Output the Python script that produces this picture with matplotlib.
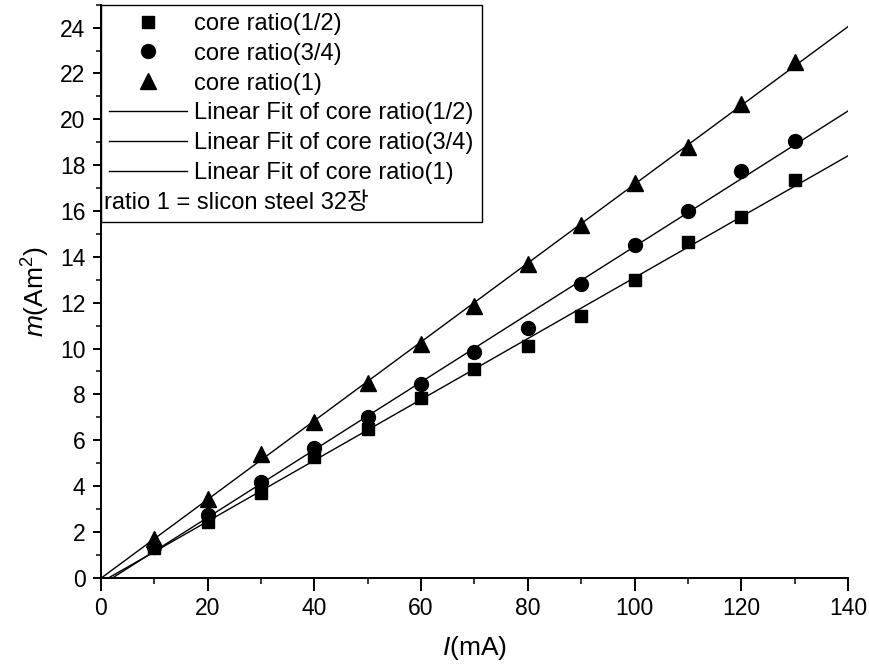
import numpy as np
import matplotlib
matplotlib.use('Agg')
import matplotlib.pyplot as plt
from matplotlib.lines import Line2D
from matplotlib.ticker import MultipleLocator

plt.rcParams['font.family'] = ['Liberation Sans', 'Noto Sans CJK KR', 'DejaVu Sans']
plt.rcParams['mathtext.fontset'] = 'custom'
plt.rcParams['mathtext.rm'] = 'Liberation Sans'
plt.rcParams['mathtext.it'] = 'Liberation Sans:italic'

# current (mA)
current = [10, 20, 30, 40, 50, 60, 70, 80, 90, 100, 110, 120, 130]
# magnetic moment (Am^2) per core ratio
m_half = [1.3, 2.45, 3.7, 5.25, 6.5, 7.85, 9.1, 10.1, 11.4, 13.0, 14.65, 15.75, 17.35]
m_three_quarter = [1.35, 2.75, 4.2, 5.65, 7.0, 8.45, 9.85, 10.9, 12.8, 14.5, 16.0, 17.75, 19.05]
m_full = [1.7, 3.45, 5.4, 6.8, 8.5, 10.2, 11.85, 13.7, 15.4, 17.2, 18.8, 20.65, 22.5]

labels = ['core ratio(1/2)', 'core ratio(3/4)', 'core ratio(1)']
note = 'ratio 1 = slicon steel 32장'
markers = ['s', 'o', '^']
msizes = [8.5, 10, 11]

fig = plt.figure(figsize=(8.69, 6.68), dpi=100)
ax = fig.add_axes([0.116, 0.135, 0.86, 0.858])

x = np.array(current, dtype=float)
xfit = np.linspace(0, 140, 200)
point_handles = []
fit_handles = []
for ys, lab, mk, ms in zip([m_half, m_three_quarter, m_full], labels, markers, msizes):
    ys = np.array(ys)
    p = ax.plot(x, ys, mk, color='black', markersize=ms, linestyle='None', label=lab, zorder=3)[0]
    k, b = np.polyfit(x, ys, 1)
    f = ax.plot(xfit, k * xfit + b, '-', color='black', linewidth=1.0,
                label='Linear Fit of ' + lab)[0]
    point_handles.append(p)
    fit_handles.append(f)

ax.set_xlim(0, 140)
ax.set_ylim(0, 25)
ax.xaxis.set_major_locator(MultipleLocator(20))
ax.xaxis.set_minor_locator(MultipleLocator(10))
ax.yaxis.set_major_locator(MultipleLocator(2))
ax.yaxis.set_minor_locator(MultipleLocator(1))
ax.spines['top'].set_visible(False)
ax.spines['right'].set_visible(False)
for s in ['left', 'bottom']:
    ax.spines[s].set_linewidth(1.4)
ax.tick_params(which='major', direction='out', width=1.4, labelsize=16.5)
ax.tick_params(which='minor', direction='out', width=1.1)
ax.tick_params(axis='x', which='major', length=9, pad=5)
ax.tick_params(axis='x', which='minor', length=4.5)
ax.tick_params(axis='y', which='major', length=6, pad=5)
ax.tick_params(axis='y', which='minor', length=3.5)

ax.set_xlabel('$I$(mA)', fontsize=19, labelpad=10)
ax.set_ylabel('$m$(Am$^2$)', fontsize=19, labelpad=6)

blank = Line2D([], [], linestyle='None')
handles = point_handles + fit_handles + [blank]
leg_labels = [h.get_label() for h in point_handles + fit_handles] + [' ']
leg = ax.legend(handles, leg_labels, loc='upper left', bbox_to_anchor=(0.0, 1.0),
                fontsize=17, frameon=True, fancybox=False, edgecolor='black',
                handlelength=3.3, handletextpad=0.3, labelspacing=0.33,
                borderpad=0.35, borderaxespad=0.0, framealpha=1)
leg.get_frame().set_linewidth(1.0)
leg.set_zorder(6)

# last legend row: free text aligned to the legend's left edge
fig.canvas.draw()
frame_bb = leg.get_frame().get_window_extent()
row_bb = leg.get_texts()[-1].get_window_extent()
inv = ax.transAxes.inverted()
x0, _ = inv.transform((frame_bb.x0 + 3, 0))
_, y0 = inv.transform((0, (row_bb.y0 + row_bb.y1) / 2))
ax.text(x0, y0, note, transform=ax.transAxes, fontsize=17, va='center', ha='left', zorder=10)

fig.savefig('out.png', dpi=100)
